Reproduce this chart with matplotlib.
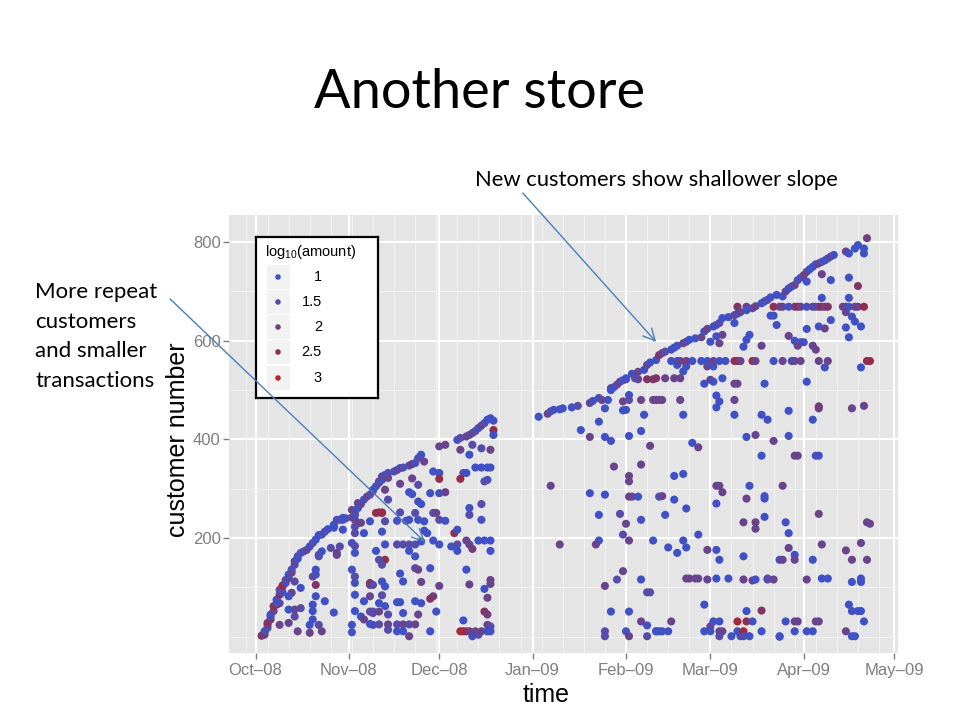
import numpy as np
import pandas as pd
import matplotlib
matplotlib.use("Agg")
import matplotlib.pyplot as plt
import matplotlib.dates as mdates
from matplotlib.colors import LinearSegmentedColormap, Normalize
from matplotlib.patches import FancyArrowPatch, Rectangle

plt.rcParams["font.family"] = ["Liberation Sans", "DejaVu Sans"]
plt.rcParams["mathtext.default"] = "regular"

start = pd.Timestamp("2008-10-01")

# (days since 2008-10-01, customer number, log10(amount))
# first visits - the upper edge of each cloud
frontier_fall = [
    (2, 2, 2.3), (3, 4, 1.8), (3, 8, 2.3), (3, 11, 1.4), (4, 18, 1.0), (4, 24, 1.8),
    (4, 28, 2.3), (5, 35, 2.3), (5, 41, 1.4), (5, 45, 1.0), (6, 52, 1.8), (6, 62, 2.3),
    (7, 65, 2.6), (7, 68, 1.4), (7, 75, 1.0), (8, 85, 2.3), (9, 90, 1.0), (8, 95, 1.4),
    (9, 102, 1.8), (9, 104, 2.8), (10, 109, 1.0), (10, 115, 1.4), (11, 119, 1.8),
    (11, 126, 1.0), (12, 130, 1.8), (12, 136, 1.4), (13, 146, 1.0), (13, 153, 1.8),
    (14, 158, 1.0), (14, 163, 1.0), (15, 170, 1.4), (16, 173, 1.0), (17, 176, 1.8),
    (18, 183, 1.0), (19, 190, 1.4), (20, 197, 1.0), (21, 206, 1.0), (22, 207, 1.0),
    (23, 213, 1.4), (24, 218, 1.0), (26, 221, 1.0), (26, 227, 1.0), (26, 225, 1.0),
    (28, 237, 1.4), (29, 241, 1.0), (30, 240, 1.0), (32, 242, 1.8), (32, 257, 1.8),
    (33, 223, 1.4), (33, 247, 1.0), (33, 252, 1.4), (34, 271, 1.8), (34, 261, 1.0),
    (35, 231, 1.8), (35, 269, 1.8), (36, 278, 1.0), (37, 284, 1.8), (38, 288, 1.4),
    (39, 296, 1.8), (39, 298, 1.0), (40, 305, 1.0), (40, 251, 2.6), (41, 312, 1.8),
    (41, 315, 1.4), (42, 251, 2.6), (42, 318, 1.0), (42, 325, 1.8), (43, 298, 1.8),
    (43, 328, 1.0), (44, 278, 1.4), (44, 322, 1.8), (44, 332, 1.4), (46, 335, 1.0),
    (47, 338, 1.8), (48, 342, 1.0), (49, 343, 1.4), (51, 347, 1.0), (52, 350, 2.3),
    (53, 352, 1.0), (54, 362, 1.4), (55, 369, 1.0), (56, 355, 1.8), (61, 386, 1.8),
    (63, 389, 1.8), (67, 399, 1.0), (68, 403, 1.4), (70, 406, 1.8), (71, 409, 1.4),
    (72, 413, 1.8), (73, 417, 1.4), (74, 423, 1.0), (75, 428, 1.8), (76, 433, 1.4),
    (77, 440, 1.0), (78, 443, 1.0), (79, 438, 1.0), (79, 419, 2.6), (79, 409, 1.0),
]

frontier_spring = [
    (94, 446, 1.0), (97, 452, 1.8), (98, 457, 1.4), (99, 460, 1.0), (101, 461, 1.0),
    (102, 463, 1.0), (105, 465, 1.0), (107, 468, 1.4), (111, 474, 1.8), (112, 478, 1.0),
    (114, 484, 1.0), (115, 480, 1.8), (117, 480, 1.0), (118, 500, 1.0), (119, 506, 1.0),
    (120, 511, 1.4), (121, 517, 1.8), (122, 520, 1.0), (123, 524, 1.0), (125, 533, 1.0),
    (126, 524, 1.4), (127, 537, 1.8), (129, 541, 1.0), (130, 551, 1.8), (131, 556, 1.0),
    (133, 561, 1.0), (134, 571, 2.3), (135, 575, 1.8), (136, 578, 1.4), (138, 582, 1.0),
    (139, 586, 1.0), (140, 590, 1.0), (142, 595, 1.8), (143, 598, 1.4), (144, 602, 1.0),
    (146, 605, 1.0), (148, 607, 1.8), (149, 619, 1.0), (150, 624, 1.8), (152, 629, 1.0),
    (153, 632, 1.0), (154, 636, 1.4), (155, 646, 1.0), (157, 648, 1.0), (159, 652, 1.8),
    (160, 655, 1.0), (161, 658, 1.8), (163, 662, 1.0), (165, 666, 1.4), (166, 670, 1.8),
    (168, 676, 1.0), (169, 680, 1.0), (170, 683, 1.4), (171, 688, 1.0), (173, 693, 1.0),
    (175, 690, 1.0), (176, 700, 1.8), (177, 706, 1.0), (178, 710, 1.0), (179, 713, 1.8),
    (180, 723, 1.4), (181, 728, 1.0), (182, 733, 1.8), (183, 740, 1.8), (184, 745, 1.0),
    (185, 750, 1.0), (186, 755, 1.0), (187, 757, 1.8), (188, 760, 1.4), (189, 763, 1.0),
    (190, 767, 1.0), (191, 771, 1.8), (192, 774, 1.0), (196, 781, 1.8), (197, 777, 1.0),
    (199, 787, 1.0), (200, 794, 1.0), (202, 787, 1.0), (202, 777, 1.0), (203, 808, 2.0),
]

# repeat visits
repeat_fall = [
    (8, 24, 1.8), (11, 28, 1.8), (14, 11, 1.8), (13, 41, 1.4), (13, 55, 1.8), (11, 55, 1.0),
    (15, 58, 1.4), (15, 99, 1.0), (13, 112, 1.4), (12, 89, 1.8), (11, 82, 1.0), (8, 68, 1.4),
    (18, 8, 1.8), (18, 24, 1.0), (19, 35, 1.0), (19, 52, 1.0), (19, 65, 1.0), (20, 136, 1.0),
    (20, 126, 1.0), (19, 122, 1.4), (20, 105, 2.3), (20, 82, 1.0), (21, 24, 1.4), (22, 11, 1.8),
    (23, 72, 1.0), (25, 180, 1.4), (27, 170, 1.8), (28, 183, 1.4), (27, 166, 1.8), (21, 166, 1.8),
    (21, 163, 1.4), (22, 173, 1.0), (26, 49, 1.0), (26, 224, 1.0), (27, 237, 1.0), (29, 237, 1.0),
    (29, 217, 1.0), (32, 190, 1.0), (33, 184, 1.4), (33, 170, 1.0), (32, 136, 1.0), (33, 122, 1.4),
    (33, 109, 1.0), (33, 85, 1.0), (33, 52, 1.0), (32, 24, 1.0), (32, 9, 1.0), (35, 41, 1.0),
    (36, 35, 1.8), (36, 72, 1.0), (38, 105, 1.8), (38, 109, 2.3), (39, 105, 1.4), (39, 48, 1.4),
    (39, 24, 1.0), (36, 210, 1.0), (33, 237, 1.8), (34, 230, 1.8), (33, 210, 1.4),
    (68, 379, 1.8), (72, 389, 1.4), (71, 369, 1.0), (75, 382, 1.4), (78, 379, 1.8), (73, 343, 1.0),
    (75, 343, 1.0), (77, 343, 1.0), (78, 343, 1.0), (77, 318, 1.0), (76, 315, 1.4), (69, 332, 1.4),
    (70, 332, 1.0), (68, 320, 2.6), (59, 335, 1.0), (61, 332, 1.0), (61, 320, 2.6), (52, 321, 1.8),
    (54, 308, 1.4), (48, 310, 1.8), (51, 293, 1.0), (52, 289, 1.0), (58, 291, 1.0), (61, 291, 1.0),
    (63, 293, 1.8), (54, 274, 1.0), (55, 269, 1.0), (71, 247, 1.4), (71, 261, 1.0), (75, 269, 1.4),
    (75, 237, 1.0), (41, 252, 2.6), (42, 252, 2.3), (38, 234, 1.0), (43, 234, 1.4), (48, 252, 1.4),
    (47, 235, 1.0), (50, 235, 1.4), (51, 237, 1.0), (53, 251, 1.4), (54, 237, 1.0), (56, 234, 1.0),
    (59, 251, 1.4), (60, 251, 1.8), (61, 237, 1.4), (63, 235, 1.0), (56, 215, 1.0), (57, 210, 1.0),
    (42, 213, 1.0), (66, 210, 2.6), (67, 217, 1.0), (40, 174, 1.0), (43, 187, 1.0), (47, 187, 1.4),
    (49, 187, 1.4), (51, 187, 1.4), (53, 187, 1.4), (55, 193, 1.0), (59, 195, 1.0), (61, 187, 1.0),
    (65, 183, 1.0), (67, 187, 1.4), (67, 174, 1.0), (70, 195, 1.8), (71, 187, 1.8), (72, 178, 2.0),
    (74, 195, 1.0), (76, 195, 1.0), (78, 195, 1.0), (78, 174, 1.0), (51, 174, 1.0), (53, 163, 1.0),
    (43, 156, 2.6), (41, 156, 1.4), (42, 146, 1.4), (53, 139, 1.4), (54, 136, 1.8), (58, 139, 1.0),
    (48, 128, 1.0), (49, 112, 1.0), (42, 112, 1.0), (43, 102, 1.0), (55, 111, 1.8), (61, 103, 1.8),
    (70, 136, 1.0), (71, 106, 1.8), (76, 97, 1.0), (78, 115, 1.8), (78, 107, 1.8), (59, 82, 2.0),
    (58, 77, 2.3), (77, 79, 1.8), (38, 82, 1.8), (42, 84, 1.4), (41, 68, 1.0), (43, 62, 1.0),
    (47, 70, 1.0), (48, 70, 1.0), (53, 72, 1.0), (55, 68, 1.0), (60, 51, 1.0), (49, 48, 1.0),
    (54, 45, 1.8), (44, 45, 1.4), (76, 51, 2.3), (77, 45, 2.0), (77, 24, 1.8), (78, 21, 1.4),
    (69, 33, 1.0), (38, 51, 1.4), (39, 51, 1.4), (41, 51, 1.8), (38, 26, 1.0), (41, 25, 1.4),
    (44, 25, 1.8), (44, 14, 1.4), (47, 25, 1.4), (49, 25, 1.8), (51, 25, 1.4), (53, 25, 1.8),
    (47, 11, 1.0), (49, 11, 1.0), (51, 1, 1.8), (58, 11, 1.0), (68, 11, 2.8), (69, 11, 2.8),
    (70, 11, 2.6), (71, 11, 2.0), (72, 1, 1.0), (73, 11, 1.8), (74, 4, 1.4), (75, 11, 1.8),
    (77, 11, 1.0), (78, 11, 1.0),
]

repeat_spring = [
    (118, 504, 1.8), (124, 490, 1.0), (122, 477, 1.8), (124, 480, 1.4), (128, 480, 1.8),
    (132, 480, 1.8), (134, 480, 1.8), (116, 463, 1.0), (123, 460, 1.0), (122, 459, 1.0),
    (129, 450, 1.0), (114, 436, 1.0), (108, 419, 1.0), (111, 405, 1.8), (116, 405, 1.0),
    (118, 397, 1.0), (124, 407, 1.0), (128, 417, 1.0), (131, 387, 1.8), (119, 345, 1.8),
    (128, 349, 1.8), (124, 326, 1.8), (124, 315, 1.8), (98, 306, 1.8), (111, 291, 1.0),
    (116, 288, 1.0), (124, 284, 1.8), (125, 284, 1.8), (127, 284, 1.0), (134, 284, 1.0),
    (114, 247, 1.0), (121, 249, 1.4), (123, 229, 1.8), (128, 237, 1.0), (122, 207, 1.4),
    (114, 195, 1.0), (113, 187, 1.8), (124, 195, 1.8), (132, 195, 1.0), (101, 187, 1.8),
    (122, 133, 1.8), (120, 116, 1.4), (116, 103, 1.8), (128, 116, 1.0), (130, 90, 1.4),
    (131, 90, 1.4), (118, 51, 1.0), (124, 51, 1.0), (128, 31, 1.8), (130, 23, 1.0),
    (133, 11, 1.0), (134, 11, 1.0), (116, 11, 1.4), (116, 1, 1.4), (123, 11, 1.0),
    (124, 1, 1.8), (130, 1, 1.4),
    (149, 513, 1.0), (151, 521, 1.8), (152, 517, 1.0), (155, 524, 1.0), (159, 513, 1.8),
    (160, 513, 1.8), (169, 513, 1.0), (143, 548, 1.0), (142, 538, 1.0), (140, 551, 1.0),
    (150, 548, 1.8), (152, 548, 1.0), (154, 595, 1.8), (153, 609, 1.0), (155, 612, 1.8),
    (151, 598, 1.0), (162, 588, 1.0), (163, 602, 1.0), (164, 612, 1.0), (168, 590, 1.8),
    (159, 636, 1.0), (171, 651, 1.0), (172, 651, 1.0), (173, 632, 1.0), (133, 480, 1.8),
    (135, 480, 1.8), (141, 480, 1.8), (142, 450, 1.0), (153, 489, 1.0), (154, 477, 1.0),
    (153, 465, 1.0), (159, 480, 1.8), (159, 450, 1.0), (168, 450, 1.0), (170, 440, 1.0),
    (163, 405, 1.0), (166, 409, 1.8), (172, 397, 1.8), (145, 393, 1.0), (147, 384, 1.8),
    (168, 367, 1.0), (139, 326, 1.0), (142, 330, 1.0), (153, 306, 1.8), (154, 306, 1.8),
    (155, 293, 1.8), (153, 270, 1.0), (135, 285, 1.8), (139, 278, 1.0), (143, 260, 1.0),
    (136, 247, 1.0), (164, 306, 1.0), (163, 280, 1.8), (169, 285, 1.0), (169, 280, 1.0),
    (162, 232, 1.8), (166, 232, 1.8), (166, 219, 1.8), (169, 243, 1.0), (147, 207, 1.0),
    (142, 195, 1.0), (137, 181, 1.0), (140, 170, 1.0), (143, 181, 1.0), (150, 176, 1.8),
    (153, 176, 1.0), (154, 156, 1.0), (162, 163, 1.0), (174, 156, 1.0),
    (143, 118, 1.8), (144, 118, 1.8), (146, 118, 1.8), (147, 118, 1.8), (150, 116, 1.8),
    (153, 118, 1.0), (157, 118, 1.0), (162, 116, 1.8), (165, 114, 1.8), (166, 116, 1.0),
    (170, 118, 1.0), (170, 116, 1.4), (172, 116, 1.8),
    (149, 65, 1.0), (163, 52, 1.0), (168, 53, 2.3), (138, 31, 1.8), (151, 21, 1.8),
    (152, 31, 1.0), (154, 31, 1.0), (160, 31, 2.8), (163, 31, 2.6), (165, 31, 1.0),
    (133, 11, 1.0), (135, 11, 1.0), (137, 11, 1.0), (149, 11, 1.0), (151, 11, 1.0),
    (154, 11, 1.8), (155, 11, 1.8), (160, 11, 1.0), (161, 1, 1.4), (162, 11, 2.8),
    (162, 1, 1.4), (164, 1, 1.0), (168, 11, 1.0), (174, 1, 1.0), (154, 1, 1.4), (158, 1, 1.0),
    (188, 735, 1.8), (191, 723, 1.0), (183, 720, 1.0), (197, 728, 1.0), (200, 711, 2.3),
    (188, 687, 1.0), (197, 687, 1.0), (183, 624, 1.0), (187, 629, 1.0), (189, 625, 1.8),
    (191, 642, 1.0), (196, 658, 1.8), (198, 649, 1.0), (199, 639, 1.0), (196, 627, 1.0),
    (197, 607, 1.0), (201, 629, 1.0), (177, 610, 1.8), (179, 600, 1.0), (181, 597, 1.0),
    (180, 590, 1.8), (182, 597, 1.0), (185, 590, 1.8), (186, 582, 1.8), (189, 546, 1.0),
    (201, 546, 1.0), (183, 517, 1.0), (177, 458, 1.0), (185, 440, 1.0), (187, 467, 2.3),
    (187, 463, 2.0), (198, 463, 1.8), (202, 468, 1.8), (177, 407, 1.0), (179, 367, 1.8),
    (180, 367, 1.8), (186, 367, 1.0), (187, 367, 1.0), (175, 306, 1.8), (187, 249, 1.8),
    (176, 232, 1.0), (177, 210, 1.0), (203, 232, 1.8), (204, 229, 1.8), (177, 180, 1.8),
    (179, 166, 1.0), (175, 156, 1.8), (179, 156, 1.8), (185, 156, 1.0), (188, 187, 1.8),
    (196, 175, 1.8), (198, 156, 1.8), (201, 190, 1.8), (203, 156, 1.8),
    (183, 116, 1.8), (188, 118, 1.0), (190, 118, 1.0), (198, 111, 1.0), (201, 118, 1.0),
    (201, 111, 1.0), (197, 65, 1.0), (198, 52, 1.0), (200, 52, 1.0), (201, 52, 1.0),
    (202, 31, 1.0), (176, 31, 1.0), (179, 31, 1.8), (180, 31, 1.8), (186, 31, 1.8),
    (187, 31, 1.8), (174, 0, 1.0), (179, 11, 1.0), (183, 11, 1.0), (185, 11, 1.0),
    (196, 11, 1.8), (198, 1, 1.0), (199, 1, 1.0),
]

# regular customers who come back again and again
regular_522 = [(123, 522, 2.0), (127, 522, 1.8), (130, 522, 2.3), (132, 522, 2.3),
               (133, 524, 2.3), (136, 524, 1.8), (139, 524, 1.8), (141, 524, 1.8)]
regular_559 = [(138, 559, 1.0), (140, 559, 1.0), (141, 559, 1.8), (143, 559, 2.0),
               (145, 559, 1.0), (148, 559, 1.0), (150, 559, 1.0), (152, 559, 1.8),
               (154, 559, 1.0), (156, 559, 1.0), (159, 559, 2.3), (160, 559, 2.8),
               (161, 559, 1.8), (165, 559, 2.6), (166, 559, 1.8), (172, 559, 1.0),
               (175, 559, 1.8), (178, 559, 1.0), (179, 559, 1.8), (181, 559, 1.8),
               (187, 559, 1.8), (190, 559, 1.8), (203, 559, 2.6), (204, 559, 2.6)]
regular_669 = [(160, 669, 2.3), (163, 669, 1.8), (172, 669, 2.6), (174, 669, 1.8),
               (175, 669, 1.8), (177, 669, 1.0), (179, 669, 1.8), (180, 669, 2.6),
               (181, 669, 1.8), (183, 669, 1.0), (185, 669, 1.8), (186, 669, 1.0),
               (187, 669, 1.8), (188, 669, 2.6), (189, 669, 1.8), (190, 669, 2.3),
               (195, 669, 1.8), (196, 669, 1.8), (197, 669, 1.0), (199, 669, 1.8),
               (200, 669, 1.8), (202, 669, 2.6)]

legend_values = [1, 1.5, 2, 2.5, 3]
legend_labels = ["1", "1.5", "2", "2.5", "3"]

cmap = LinearSegmentedColormap.from_list(
    "amt", ["#3F51C4", "#5D4BA2", "#713F7E", "#8A2F56", "#B5252A"])
norm = Normalize(1, 3, clip=True)

rows = (repeat_fall + repeat_spring + regular_522 + regular_559 + regular_669
        + frontier_fall + frontier_spring)
day, cust, amt = (np.array(v, dtype=float) for v in zip(*rows))
when = mdates.date2num(start + pd.to_timedelta(day, unit="D"))

W, H = 960, 720
fig = plt.figure(figsize=(9.6, 7.2), dpi=100)
fig.patch.set_facecolor("white")

ax = fig.add_axes([229 / W, 1 - 653 / H, 669 / W, 438 / H])
ax.set_facecolor("#E5E5E5")
ax.scatter(when, cust, c=amt, cmap=cmap, norm=norm, s=34, linewidths=0, zorder=3)

x0 = mdates.date2num(start)
ax.set_xlim(x0 - 8.8, x0 + 213.3)
ax.set_ylim(-33, 855)
ax.xaxis.set_major_locator(mdates.MonthLocator())
ax.xaxis.set_major_formatter(mdates.DateFormatter("%b\u2013%y"))
ax.xaxis.set_minor_locator(mdates.WeekdayLocator(byweekday=mdates.SU))
ax.set_yticks([200, 400, 600, 800])
ax.set_yticks([0, 100, 300, 500, 700], minor=True)
ax.set_axisbelow(True)
ax.grid(which="minor", color="#F2F2F2", lw=0.7)
ax.grid(which="major", color="white", lw=1.5)
for s in ax.spines.values():
    s.set_visible(False)
ax.tick_params(which="major", length=4, width=1, color="#7F7F7F",
               labelcolor="#7F7F7F", labelsize=12)
ax.tick_params(axis="x", pad=3)
ax.tick_params(axis="y", pad=2)
ax.tick_params(which="minor", length=0)

fig.text(546 / W, 1 - 695 / H, "time", fontsize=18, ha="center", va="center")
fig.text(178 / W, 1 - 440 / H, "customer number", fontsize=18, rotation=90,
         ha="center", va="center")

# legend
leg = fig.add_axes([256 / W, 1 - 398 / H, 122 / W, 161 / H])
leg.set_xlim(0, 122)
leg.set_ylim(161, 0)
leg.set_xticks([])
leg.set_yticks([])
for s in leg.spines.values():
    s.set_linewidth(1.6)
    s.set_color("black")
leg.text(9, 15, "log$_{10}$(amount)", fontsize=10.5, ha="left", va="center")
key_y = [40, 65, 90, 115, 141]
for y, lab in zip(key_y, legend_labels):
    leg.add_patch(Rectangle((11, y - 12), 23, 24, color="#F2F2F2", lw=0))
    leg.text(66, y, lab, fontsize=10.5, ha="right", va="center")
leg.scatter([22] * 5, key_y, c=legend_values, cmap=cmap, norm=norm, s=16,
            linewidths=0, zorder=3)

# slide text
fig.text(480 / W, 1 - 92 / H, "Another store", fontsize=39, family="Lato",
         ha="center", va="center")
fig.text(475 / W, 1 - 180 / H, "New customers show shallower slope", fontsize=15.8,
         family="Lato", ha="left", va="center")
for i, line in enumerate(["More repeat", "customers", "and smaller", "transactions"]):
    fig.text(35 / W, 1 - (292 + 29.7 * i) / H, line, fontsize=16, family="Lato",
             ha="left", va="center")


def px(x, y):
    return (x / W, 1 - y / H)


for a, b in [((521, 191), (658, 344)), ((168, 297), (427, 544))]:
    fig.add_artist(FancyArrowPatch(px(*a), px(*b), transform=fig.transFigure,
                                   arrowstyle="->,head_length=0.6,head_width=0.3",
                                   mutation_scale=14, color="#4A7EBB", lw=1))

fig.savefig("out.png", dpi=100)
